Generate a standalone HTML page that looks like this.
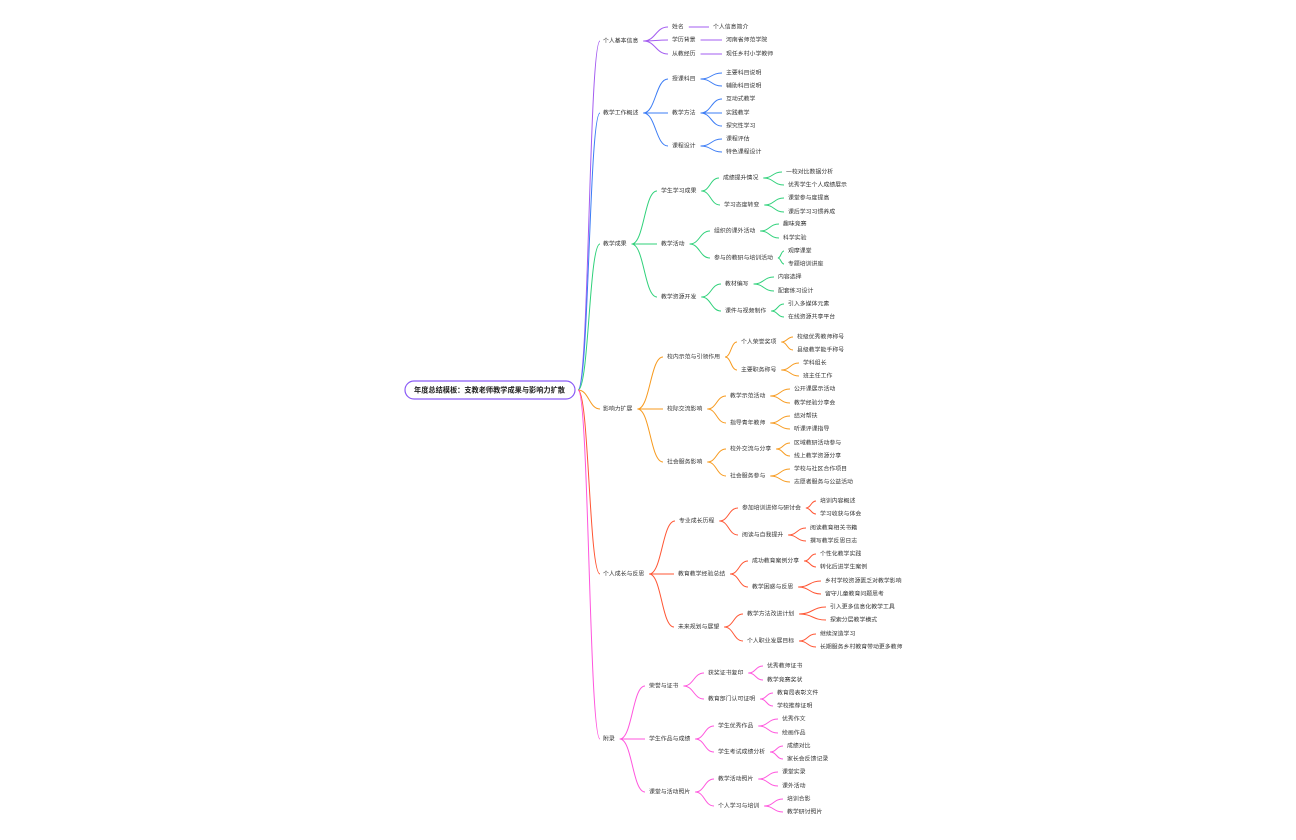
<!DOCTYPE html>
<html><head><meta charset="utf-8"><style>
html,body{margin:0;padding:0;background:#fff;}
svg{display:block;}
text{font-family:"Liberation Sans","Noto Sans CJK SC",sans-serif;font-size:5.9px;fill:#333;dominant-baseline:middle;}
text.r{font-size:7.2px;font-weight:bold;fill:#222;}
</style></head><body>
<svg id="s" width="1296" height="840" viewBox="0 0 1296 840">
<g id="lines" fill="none" stroke-width="1"></g>
<rect x="405" y="381" width="170" height="18" rx="9" fill="#fff" stroke="#8b5cf6" stroke-width="1.2"/>
<text class="r" x="414" y="390.5">年度总结模板：支教老师教学成果与影响力扩散</text>
<g id="t">
<text class="L1" x="603" y="41">个人基本信息</text>
 <text class="L2" x="672" y="27">姓名</text>
  <text class="L3" x="713" y="27">个人信息简介</text>
 <text class="L2" x="672" y="40">学历背景</text>
  <text class="L3" x="726" y="40">河南省师范学院</text>
 <text class="L2" x="672" y="54">从教经历</text>
  <text class="L3" x="726" y="54">现任乡村小学教师</text>
<text class="L1" x="603" y="113">教学工作概述</text>
 <text class="L2" x="672" y="79">授课科目</text>
  <text class="L3" x="726" y="73">主要科目说明</text>
  <text class="L3" x="726" y="86">辅助科目说明</text>
 <text class="L2" x="672" y="113">教学方法</text>
  <text class="L3" x="726" y="99">互动式教学</text>
  <text class="L3" x="726" y="113">实践教学</text>
  <text class="L3" x="726" y="126">探究性学习</text>
 <text class="L2" x="672" y="146">课程设计</text>
  <text class="L3" x="726" y="139">课程评估</text>
  <text class="L3" x="726" y="152">特色课程设计</text>
<text class="L1" x="603" y="244">教学成果</text>
 <text class="L2" x="661" y="191">学生学习成果</text>
  <text class="L3" x="723" y="178">成绩提升情况</text>
   <text class="L4" x="786" y="172">一校对比数据分析</text>
   <text class="L4" x="788" y="185">优秀学生个人成绩展示</text>
  <text class="L3" x="724" y="205">学习态度转变</text>
   <text class="L4" x="788" y="198">课堂参与度提高</text>
   <text class="L4" x="788" y="212">课后学习习惯养成</text>
 <text class="L2" x="661" y="244">教学活动</text>
  <text class="L3" x="714" y="231">组织的课外活动</text>
   <text class="L4" x="783" y="224">趣味竞赛</text>
   <text class="L4" x="783" y="238">科学实验</text>
  <text class="L3" x="714" y="258">参与的教研与培训活动</text>
   <text class="L4" x="788" y="251">观摩课堂</text>
   <text class="L4" x="788" y="264">专题培训讲座</text>
 <text class="L2" x="661" y="297">教学资源开发</text>
  <text class="L3" x="725" y="284">教材编写</text>
   <text class="L4" x="778" y="277">内容选择</text>
   <text class="L4" x="778" y="291">配套练习设计</text>
  <text class="L3" x="725" y="311">课件与视频制作</text>
   <text class="L4" x="788" y="304">引入多媒体元素</text>
   <text class="L4" x="788" y="317">在线资源共享平台</text>
<text class="L1" x="603" y="409">影响力扩展</text>
 <text class="L2" x="667" y="357">校内示范与引领作用</text>
  <text class="L3" x="741" y="342">个人荣誉奖项</text>
   <text class="L4" x="797" y="337">校级优秀教师称号</text>
   <text class="L4" x="797" y="350">县级教学能手称号</text>
  <text class="L3" x="741" y="370">主要职务称号</text>
   <text class="L4" x="803" y="363">学科组长</text>
   <text class="L4" x="803" y="376">班主任工作</text>
 <text class="L2" x="667" y="409">校际交流影响</text>
  <text class="L3" x="730" y="396">教学示范活动</text>
   <text class="L4" x="794" y="389">公开课展示活动</text>
   <text class="L4" x="794" y="403">教学经验分享会</text>
  <text class="L3" x="730" y="423">指导青年教师</text>
   <text class="L4" x="794" y="416">结对帮扶</text>
   <text class="L4" x="794" y="429">听课评课指导</text>
 <text class="L2" x="667" y="462">社会服务影响</text>
  <text class="L3" x="730" y="449">校外交流与分享</text>
   <text class="L4" x="794" y="443">区域教研活动参与</text>
   <text class="L4" x="794" y="456">线上教学资源分享</text>
  <text class="L3" x="730" y="476">社会服务参与</text>
   <text class="L4" x="794" y="469">学校与社区合作项目</text>
   <text class="L4" x="794" y="482">志愿者服务与公益活动</text>
<text class="L1" x="603" y="574">个人成长与反思</text>
 <text class="L2" x="679" y="521">专业成长历程</text>
  <text class="L3" x="742" y="508">参加培训进修与研讨会</text>
   <text class="L4" x="820" y="501">培训内容概述</text>
   <text class="L4" x="820" y="514">学习收获与体会</text>
  <text class="L3" x="742" y="535">阅读与自我提升</text>
   <text class="L4" x="810" y="528">阅读教育相关书籍</text>
   <text class="L4" x="810" y="541">撰写教学反思日志</text>
 <text class="L2" x="678" y="574">教育教学经验总结</text>
  <text class="L3" x="752" y="561">成功教育案例分享</text>
   <text class="L4" x="820" y="554">个性化教学实践</text>
   <text class="L4" x="820" y="567">转化后进学生案例</text>
  <text class="L3" x="752" y="587">教学困惑与反思</text>
   <text class="L4" x="825" y="581">乡村学校资源匮乏对教学影响</text>
   <text class="L4" x="825" y="594">留守儿童教育问题思考</text>
 <text class="L2" x="678" y="627">未来规划与展望</text>
  <text class="L3" x="747" y="614">教学方法改进计划</text>
   <text class="L4" x="830" y="607">引入更多信息化教学工具</text>
   <text class="L4" x="830" y="620">探索分层教学模式</text>
  <text class="L3" x="747" y="641">个人职业发展目标</text>
   <text class="L4" x="820" y="634">继续深造学习</text>
   <text class="L4" x="820" y="647">长期服务乡村教育带动更多教师</text>
<text class="L1" x="603" y="739">附录</text>
 <text class="L2" x="649" y="686">荣誉与证书</text>
  <text class="L3" x="708" y="673">获奖证书复印</text>
   <text class="L4" x="767" y="666">优秀教师证书</text>
   <text class="L4" x="767" y="680">教学竞赛奖状</text>
  <text class="L3" x="708" y="699">教育部门认可证明</text>
   <text class="L4" x="777" y="693">教育局表彰文件</text>
   <text class="L4" x="777" y="706">学校推荐证明</text>
 <text class="L2" x="649" y="739">学生作品与成绩</text>
  <text class="L3" x="718" y="726">学生优秀作品</text>
   <text class="L4" x="782" y="719">优秀作文</text>
   <text class="L4" x="782" y="733">绘画作品</text>
  <text class="L3" x="718" y="752">学生考试成绩分析</text>
   <text class="L4" x="787" y="746">成绩对比</text>
   <text class="L4" x="787" y="759">家长会反馈记录</text>
 <text class="L2" x="649" y="792">课堂与活动照片</text>
  <text class="L3" x="718" y="779">教学活动照片</text>
   <text class="L4" x="782" y="772">课堂实录</text>
   <text class="L4" x="782" y="786">课外活动</text>
  <text class="L3" x="718" y="806">个人学习与培训</text>
   <text class="L4" x="787" y="799">培训合影</text>
   <text class="L4" x="787" y="812">教学研讨照片</text>
</g>
</svg>
<script>
(function(){
var cols=["#a35cf0","#3b7cf5","#2fd17a","#f79a1e","#ff5533","#ff55dd"];
var g=document.getElementById("lines");
var ts=document.querySelectorAll("#t text");
var stack={};var gi=-1;
function path(x1,y1,x2,y2,c){
 var p=document.createElementNS("http://www.w3.org/2000/svg","path");
 var mx=(x1+x2)/2;
 p.setAttribute("d","M"+x1+","+y1+" C"+mx+","+y1+" "+mx+","+y2+" "+x2+","+y2);
 p.setAttribute("stroke",c);g.appendChild(p);
}
for(var i=0;i<ts.length;i++){
 var t=ts[i];var L=parseInt(t.getAttribute("class").slice(1));
 if(L==1)gi++;
 var x=parseFloat(t.getAttribute("x")),y=parseFloat(t.getAttribute("y"));
 var w=t.getComputedTextLength();
 if(L==1){path(578,390,x-3,y,cols[gi]);}
 else {var par=stack[L-1];path(par.x,par.y,x-4,y,cols[gi]);}
 stack[L]={x:x+w+5,y:y};
}
})();
</script>
</body></html>
